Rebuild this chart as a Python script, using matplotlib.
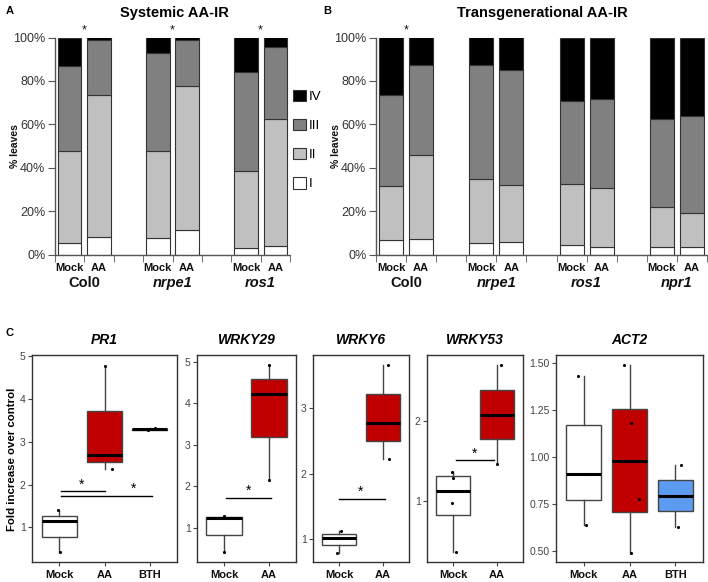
import numpy as np
import matplotlib
matplotlib.use("Agg")
import matplotlib.pyplot as plt
import matplotlib.transforms as mtransforms
from matplotlib.patches import Patch

plt.rcParams['font.family'] = ['Liberation Sans', 'DejaVu Sans']

# ---------------- data ----------------
classes = ["I", "II", "III", "IV"]
class_colors = ["#FFFFFF", "#C0C0C0", "#808080", "#000000"]

# Panel A: Systemic AA-IR (percent leaves per class)
sysA_genotypes = ["Col0", "nrpe1", "ros1"]
sysA_treat = ["Mock", "AA"] * 3
sysA_I = [5.2, 8.2, 7.5, 11.5, 3.1, 3.8]
sysA_II = [42.5, 65.3, 40.2, 66.2, 35.5, 58.8]
sysA_III = [39.2, 25.4, 45.2, 21.2, 45.6, 32.8]
sysA_IV = [13.1, 1.1, 7.1, 1.1, 15.8, 4.6]
sysA_sig = [True, True, True]

# Panel B: Transgenerational AA-IR
trB_genotypes = ["Col0", "nrpe1", "ros1", "npr1"]
trB_treat = ["Mock", "AA"] * 4
trB_I = [6.5, 7.2, 5.4, 5.8, 4.3, 3.5, 3.5, 3.4]
trB_II = [25.0, 38.8, 29.4, 26.2, 28.2, 27.3, 18.3, 15.6]
trB_III = [42.0, 41.4, 52.6, 52.9, 38.1, 41.0, 40.7, 45.0]
trB_IV = [26.5, 12.6, 12.6, 15.1, 29.4, 28.2, 37.5, 36.0]
trB_sig = [True, False, False, False]

# Panel C: fold increase over control (individual replicates)
genes = ["PR1", "WRKY29", "WRKY6", "WRKY53", "ACT2"]
gene_groups = {
    "PR1": ["Mock", "AA", "BTH"],
    "WRKY29": ["Mock", "AA"],
    "WRKY6": ["Mock", "AA"],
    "WRKY53": ["Mock", "AA"],
    "ACT2": ["Mock", "AA", "BTH"],
}
pr1_mock = [1.40, 1.14, 0.42]
pr1_aa = [4.77, 2.68, 2.37]
pr1_bth = [3.26, 3.32]
wrky29_mock = [1.29, 1.24, 0.41]
wrky29_aa = [4.93, 4.24, 2.15]
wrky6_mock = [1.13, 1.02, 0.80]
wrky6_aa = [3.66, 2.78, 2.22]
wrky53_mock = [1.37, 1.29, 0.98, 0.37]
wrky53_aa = [2.69, 2.08, 1.46]
act2_mock = [1.43, 0.91, 0.64]
act2_aa = [1.49, 1.18, 0.78, 0.49]
act2_bth = [0.96, 0.63]

gene_values = {
    "PR1": [pr1_mock, pr1_aa, pr1_bth],
    "WRKY29": [wrky29_mock, wrky29_aa],
    "WRKY6": [wrky6_mock, wrky6_aa],
    "WRKY53": [wrky53_mock, wrky53_aa],
    "ACT2": [act2_mock, act2_aa, act2_bth],
}
# horizontal jitter of the plotted replicate dots
gene_jitter = {
    "PR1": [[-0.03, 0.0, 0.02], [0.0, -0.05, 0.16], [-0.05, 0.12]],
    "WRKY29": [[0.0, 0.05, 0.0], [0.0, 0.0, 0.0]],
    "WRKY6": [[0.05, 0.0, -0.05], [0.12, 0.06, 0.14]],
    "WRKY53": [[-0.03, 0.0, -0.02, 0.06], [0.09, 0.0, 0.0]],
    "ACT2": [[-0.12, 0.12, 0.06], [-0.12, 0.03, 0.2, 0.04], [0.12, 0.05]],
}
gene_ylim = {
    "PR1": (0.20, 5.02),
    "WRKY29": (0.18, 5.17),
    "WRKY6": (0.66, 3.81),
    "WRKY53": (0.25, 2.82),
    "ACT2": (0.445, 1.543),
}
gene_yticks = {
    "PR1": [1, 2, 3, 4, 5],
    "WRKY29": [1, 2, 3, 4, 5],
    "WRKY6": [1, 2, 3],
    "WRKY53": [1, 2],
    "ACT2": [0.50, 0.75, 1.00, 1.25, 1.50],
}
# significance bars: (x_start, x_end, y, star_x)
gene_sig = {
    "PR1": [(1.03, 2.0, 1.84, 1.5), (1.03, 3.05, 1.74, 2.65)],
    "WRKY29": [(1.05, 2.05, 1.72, 1.55)],
    "WRKY6": [(1.0, 2.05, 1.62, 1.5)],
    "WRKY53": [(1.06, 1.94, 1.51, 1.5)],
    "ACT2": [],
}
group_colors = {"Mock": "#FFFFFF", "AA": "#C00000", "BTH": "#5B9BF0"}

# ---------------- layout helpers ----------------
W, H = 708, 582
fig = plt.figure(figsize=(W / 100, H / 100), dpi=100)


def rect(l, t, r, b):
    return [l / W, 1 - b / H, (r - l) / W, (b - t) / H]


def fy(y):
    return 1 - y / H


def fx(x):
    return x / W


SPINE = "#555555"
TXT = "#333333"


def stacked_panel(ax, treat, layers, genotypes, sig, ylabel_x):
    n_groups = len(genotypes)
    positions = []
    for g in range(n_groups):
        positions += [3 * g, 3 * g + 1]
    positions = np.array(positions)
    bottom = np.zeros(len(positions))
    for vals, col in zip(layers, class_colors):
        v = np.array(vals) / 100.0
        ax.bar(positions, v, width=0.8, bottom=bottom, color=col,
               edgecolor="#333333", linewidth=0.8, zorder=2)
        bottom += v
    ncat = 3 * n_groups - 1
    ax.set_xlim(-0.5, ncat - 0.5)
    ax.set_ylim(0, 1)
    for s in ["top", "right"]:
        ax.spines[s].set_visible(False)
    for s in ["left", "bottom"]:
        ax.spines[s].set_color(SPINE)
        ax.spines[s].set_linewidth(1.0)
    ax.set_yticks(np.linspace(0, 1, 6))
    ax.set_yticklabels([f"{int(v)}%" for v in np.linspace(0, 100, 6)],
                       fontsize=9, color=TXT)
    ax.tick_params(axis="y", length=5, color=SPINE, pad=2)
    ax.set_xticks(positions)
    ax.set_xticklabels(treat, fontsize=8, fontweight="bold", color="#111111")
    ax.tick_params(axis="x", which="major", length=0, pad=6)
    ax.set_xticks(np.arange(-0.5, ncat, 1.0), minor=True)
    ax.tick_params(axis="x", which="minor", length=5, color=SPINE)
    trans = mtransforms.blended_transform_factory(ax.transData, fig.transFigure)
    for g, name in enumerate(genotypes):
        style = "normal" if name == "Col0" else "italic"
        ax.text(3 * g + 0.5, fy(283), name, transform=trans, ha="center",
                va="center", fontsize=10.5, fontweight="bold", style=style,
                color="#111111")
        if sig[g]:
            ax.text(3 * g + 0.5, fy(30), "*", transform=trans, ha="center",
                    va="center", fontsize=9, color="#111111")
    fig.text(fx(ylabel_x), fy(146), "% leaves", rotation=90, ha="center",
             va="center", fontsize=7.5, fontweight="bold", color="#111111")


# Panel A
axA = fig.add_axes(rect(55, 37.5, 290, 254.5))
stacked_panel(axA, sysA_treat, [sysA_I, sysA_II, sysA_III, sysA_IV],
              sysA_genotypes, sysA_sig, 15)
fig.text(fx(174), fy(13), "Systemic AA-IR", ha="center", va="center",
         fontsize=10.5, fontweight="bold")
fig.text(fx(10), fy(11), "A", ha="center", va="center", fontsize=8,
         fontweight="bold")
handles = [Patch(facecolor=c, edgecolor="#333333", linewidth=0.8)
           for c in class_colors[::-1]]
fig.legend(handles, classes[::-1], loc="upper left",
           bbox_to_anchor=(fx(293), fy(90)), frameon=False, fontsize=9.5,
           handlelength=0.95, handleheight=0.95, handletextpad=0.25,
           labelspacing=1.2, borderaxespad=0, borderpad=0)

# Panel B
axB = fig.add_axes(rect(376, 37.5, 707, 254.5))
stacked_panel(axB, trB_treat, [trB_I, trB_II, trB_III, trB_IV],
              trB_genotypes, trB_sig, 336)
fig.text(fx(542), fy(13), "Transgenerational AA-IR", ha="center",
         va="center", fontsize=10.5, fontweight="bold")
fig.text(fx(327), fy(11), "B", ha="center", va="center", fontsize=8,
         fontweight="bold")

# Panel C
c_rects = {
    "PR1": (32, 177),
    "WRKY29": (197, 296),
    "WRKY6": (313, 409),
    "WRKY53": (427, 523),
    "ACT2": (556, 703),
}
for gene in genes:
    l, r = c_rects[gene]
    ax = fig.add_axes(rect(l, 355, r, 561.7))
    groups = gene_groups[gene]
    data = gene_values[gene]
    pos = np.arange(1, len(groups) + 1)
    bp = ax.boxplot(data, positions=pos, widths=0.78, patch_artist=True,
                    showfliers=False, showcaps=False, whis=1.5,
                    medianprops=dict(color="black", linewidth=2.2),
                    whiskerprops=dict(color="#444444", linewidth=1.0),
                    boxprops=dict(edgecolor="#444444", linewidth=1.0))
    for patch, g in zip(bp["boxes"], groups):
        patch.set_facecolor(group_colors[g])
    for i, (vals, jit) in enumerate(zip(data, gene_jitter[gene])):
        ax.scatter(pos[i] + np.array(jit), vals, s=5, color="black",
                   zorder=5, linewidths=0)
    for (x0, x1, y, sx) in gene_sig[gene]:
        ax.plot([x0, x1], [y, y], color="black", linewidth=1.0)
        ax.text(sx, y, "*", ha="center", va="bottom", fontsize=10)
    ax.set_xlim(0.4, len(groups) + 0.6)
    ax.set_ylim(*gene_ylim[gene])
    yt = gene_yticks[gene]
    ax.set_yticks(yt)
    if gene == "ACT2":
        ax.set_yticklabels([f"{v:.2f}" for v in yt])
    else:
        ax.set_yticklabels([f"{v:g}" for v in yt])
    ax.set_xticks(pos)
    ax.set_xticklabels(groups, fontsize=8, fontweight="bold", color="#111111")
    ax.tick_params(axis="y", labelsize=7.5, labelcolor="#444444", length=3,
                   color="#444444", pad=1.5)
    ax.tick_params(axis="x", length=3, color="#444444", pad=3)
    for s in ax.spines.values():
        s.set_color("#333333")
        s.set_linewidth(1.0)
    ax.set_title(gene, fontsize=10, fontweight="bold", style="italic",
                 pad=8)

fig.text(fx(12), fy(459), "Fold increase over control", rotation=90,
         ha="center", va="center", fontsize=8.2, fontweight="bold")
fig.text(fx(9), fy(333), "C", ha="center", va="center", fontsize=8,
         fontweight="bold")

fig.savefig("out.png", dpi=100)
